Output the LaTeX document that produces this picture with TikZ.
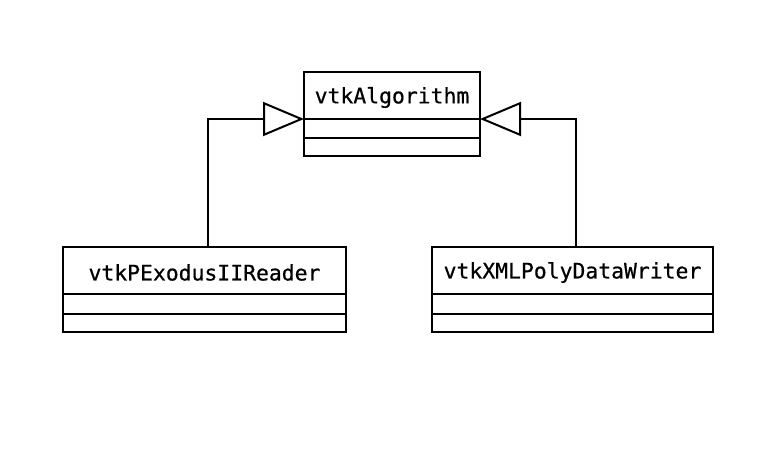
\documentclass[tikz,border=0pt]{standalone}
\usepackage{fontspec}
\setmonofont[FakeBold=0.6,AutoFakeBold=0.6]{DejaVu Sans Mono}
\usetikzlibrary{arrows.meta}
\begin{document}
\begin{tikzpicture}[x=1pt,y=-1pt,
  classbox/.style={draw,line width=2pt,minimum width=#1,minimum height=84pt,inner sep=0pt},
  classname/.style={font=\ttfamily\fontsize{21.4}{24}\selectfont,inner sep=0pt},
  divider/.style={line width=2pt},
  inherit/.style={line width=2pt,-{Triangle[open,length=41pt,width=34pt,line width=2pt,fill=white]}}]
\useasboundingbox (0,0) rectangle (784,454);
% top class
\node[classbox=176pt] (alg) at (392,114) {};
\node[classname] (algname) at (392,97.5) {vtkAlgorithm};
\draw[divider] (304,119) coordinate (algL) -- (480,119) coordinate (algR);
\draw[divider] (304,138) -- (480,138);
% left class
\node[classbox=283pt] (pex) at (204.5,289.5) {};
\node[classname] (pexname) at (204.5,272.5) {vtkPExodusIIReader};
\draw[divider] (63,294) -- (346,294);
\draw[divider] (63,314) -- (346,314);
% right class
\node[classbox=281pt] (xml) at (572.5,289.5) {};
\node[classname] (xmlname) at (572.5,272.5) {vtkXMLPolyDataWriter};
\draw[divider] (432,294) -- (713,294);
\draw[divider] (432,314) -- (713,314);
% connectors
\coordinate (pexTop) at (208,247.5);
\coordinate (xmlTop) at (576,247.5);
\draw[inherit] (pexTop) |- (algL);
\draw[inherit] (xmlTop) |- (algR);
\end{tikzpicture}
\end{document}
